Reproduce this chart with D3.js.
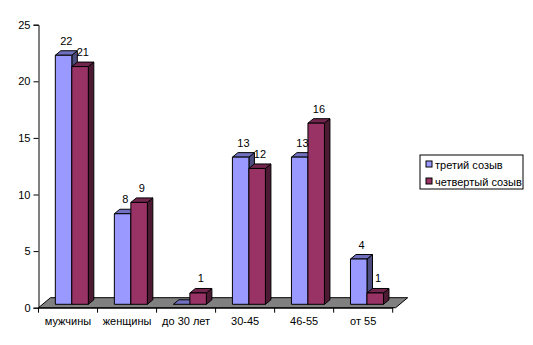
<!DOCTYPE html>
<html>
<head>
<meta charset="utf-8">
<script src="https://cdn.jsdelivr.net/npm/d3@7"></script>
<style>
  html, body { margin: 0; padding: 0; background: #fff; }
  svg { display: block; font-family: Arial, "Liberation Sans", sans-serif; }
</style>
</head>
<body>
<svg id="chart" width="533" height="345"></svg>
<script>
// Состав депутатов по полу и возрасту
const categories = ["мужчины", "женщины", "до 30 лет", "30-45", "46-55", "от 55"];
const seriesNames = ["третий созыв", "четвертый созыв"];
const thirdConvocation = [22, 8, 0, 13, 13, 4];
const fourthConvocation = [21, 9, 1, 12, 16, 1];
const yTicks = [0, 5, 10, 15, 20, 25];

const seriesValues = [thirdConvocation, fourthConvocation];
const palette = [
  { front: "#9999FF", top: "#7070C0", side: "#4D4D80", label: "#000000" },
  { front: "#993366", top: "#73264D", side: "#4D1A33", label: "#000000" }
];

const svg = d3.select("#chart");

const plotLeft = 38.5, plotRight = 392.7;
const baseY = 307.7, topY = 24.7;

const x = d3.scaleBand().domain(categories).range([plotLeft, plotRight]).padding(0);
const y = d3.scaleLinear().domain([0, 25]).range([baseY, topY]);

// 3D offsets
const floorDx = 12, floorDy = -10;
const barLift = 3.4, barShift = 3.8;
const depthDx = 5.5, depthDy = -4.5;
const barW = 16.5;

// floor
const floorFrontRight = plotRight + 3;
svg.append("polygon")
  .attr("points", [
    [plotLeft, baseY], [floorFrontRight, baseY],
    [floorFrontRight + floorDx, baseY + floorDy], [plotLeft + floorDx, baseY + floorDy]
  ].map(p => p.join(",")).join(" "))
  .attr("fill", "#808080")
  .attr("stroke", "#000")
  .attr("stroke-width", 1);

// value axis
const yAxis = d3.axisLeft(y).tickValues(yTicks).tickSize(5).tickPadding(3);
const gy = svg.append("g").attr("transform", `translate(${plotLeft},0)`).call(yAxis);
gy.select(".domain").attr("stroke", "#000");
gy.selectAll(".tick line").attr("stroke", "#000");
gy.selectAll(".tick text").attr("font-size", 11).attr("fill", "#000")
  .attr("font-family", "Arial, 'Liberation Sans', sans-serif");

// category axis
const xAxis = d3.axisBottom(x).tickSize(0).tickPadding(10);
const gx = svg.append("g").attr("transform", `translate(0,${baseY})`).call(xAxis);
gx.select(".domain").attr("stroke", "#000");
gx.selectAll(".tick text").attr("font-size", 11).attr("fill", "#000")
  .attr("font-family", "Arial, 'Liberation Sans', sans-serif");
// boundary ticks between categories
const bounds = categories.map(c => x(c)).concat([plotRight]);
svg.append("g").selectAll("line").data(bounds).join("line")
  .attr("x1", d => d).attr("x2", d => d)
  .attr("y1", baseY).attr("y2", baseY + 5)
  .attr("stroke", "#000");

// bars
const bars = svg.append("g");
categories.forEach((c, ci) => {
  seriesValues.forEach((vals, si) => {
    const v = vals[ci];
    const col = palette[si];
    const x0 = x(c) + (x.bandwidth() - 2 * barW) / 2 + barShift + si * barW;
    const x1 = x0 + barW;
    const yb = y(0) - barLift;
    const yt = y(v) - barLift;
    const g = bars.append("g").attr("stroke", "#000").attr("stroke-width", 1).attr("stroke-linejoin", "round");
    // side face
    g.append("polygon").attr("fill", col.side)
      .attr("points", [[x1, yb], [x1 + depthDx, yb + depthDy], [x1 + depthDx, yt + depthDy], [x1, yt]].map(p => p.join(",")).join(" "));
    // top face
    g.append("polygon").attr("fill", col.top)
      .attr("points", [[x0, yt], [x1, yt], [x1 + depthDx, yt + depthDy], [x0 + depthDx, yt + depthDy]].map(p => p.join(",")).join(" "));
    // front face
    if (v > 0) {
      g.append("rect").attr("fill", col.front)
        .attr("x", x0).attr("y", yt).attr("width", barW).attr("height", yb - yt);
    }
    // value label
    if (v > 0) {
      svg.append("text")
        .attr("x", x0 + barW / 2 + depthDx / 2)
        .attr("y", yt + depthDy - 6)
        .attr("text-anchor", "middle")
        .attr("font-size", 11)
        .attr("fill", col.label)
        .text(v);
    }
  });
});

// legend
const legend = svg.append("g").attr("transform", "translate(420,155)");
legend.append("rect").attr("width", 103).attr("height", 34)
  .attr("fill", "#fff").attr("stroke", "#000").attr("stroke-width", 1);
seriesNames.forEach((name, i) => {
  const row = legend.append("g").attr("transform", `translate(6,${9.5 + i * 17})`);
  row.append("rect").attr("x", 0).attr("y", -3.5).attr("width", 6).attr("height", 6)
    .attr("fill", palette[i].front).attr("stroke", "#000").attr("stroke-width", 1);
  row.append("text").attr("x", 9).attr("y", 4).attr("font-size", 11).attr("fill", "#000").text(name);
});
</script>
</body>
</html>
